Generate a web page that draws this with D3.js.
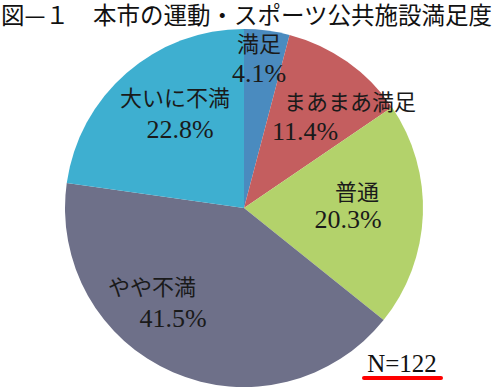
<!DOCTYPE html>
<html>
<head>
<meta charset="utf-8">
<script src="https://cdn.jsdelivr.net/npm/d3@7"></script>
<style>
  body { margin: 0; background: #fff; }
  svg { display: block; }
  .jp { font-family: "Noto Sans CJK JP", sans-serif; }
  .num { font-family: "Liberation Serif", "DejaVu Serif", serif; }
</style>
</head>
<body>
<script>
// data
var labels = ["満足", "まあまあ満足", "普通", "やや不満", "大いに不満"];
var values = [4.1, 11.4, 20.3, 41.5, 22.8];
var colors = ["#4a8bbf", "#c45e5f", "#b3d26b", "#6e7089", "#3eafd0"];
// label anchor points (label baseline, percent baseline) in px
var labelPos = [[259, 52], [350, 110], [357, 200], [152, 295], [175, 106]];
var pctPos = [[259, 82], [305, 140], [348, 228], [173, 327], [180, 138]];

var width = 500, height = 387;
var cx = 244, cy = 208, r = 179;

var svg = d3.select("body").append("svg")
    .attr("width", width)
    .attr("height", height);

// title in two parts
svg.append("text")
    .attr("class", "jp")
    .attr("x", 1)
    .attr("y", 24)
    .attr("font-size", "23.5px")
    .attr("fill", "#111")
    .text("図—１");

svg.append("text")
    .attr("class", "jp")
    .attr("x", 93)
    .attr("y", 24)
    .attr("font-size", "23.5px")
    .attr("fill", "#111")
    .text("本市の運動・スポーツ公共施設満足度");

var pie = d3.pie().sort(null).value(d => d);
var arc = d3.arc().innerRadius(0).outerRadius(r);

var g = svg.append("g")
    .attr("transform", "translate(" + cx + "," + cy + ")");

g.selectAll("path")
    .data(pie(values))
    .enter()
    .append("path")
    .attr("d", arc)
    .attr("fill", (d, i) => colors[i]);

// slice labels
labels.forEach((lab, i) => {
    svg.append("text")
        .attr("class", "jp")
        .attr("x", labelPos[i][0])
        .attr("y", labelPos[i][1])
        .attr("text-anchor", "middle")
        .attr("font-size", "22px")
        .attr("fill", "#1a1a1a")
        .text(lab);
    svg.append("text")
        .attr("class", "num")
        .attr("x", pctPos[i][0])
        .attr("y", pctPos[i][1])
        .attr("text-anchor", "middle")
        .attr("font-size", "26px")
        .attr("fill", "#1a1a1a")
        .text(values[i].toFixed(1) + "%");
});

// N note with red underline
svg.append("text")
    .attr("class", "num")
    .attr("x", 402)
    .attr("y", 372)
    .attr("text-anchor", "middle")
    .attr("font-size", "25px")
    .attr("fill", "#111")
    .text("N=122");

svg.append("line")
    .attr("x1", 364).attr("y1", 378)
    .attr("x2", 441).attr("y2", 378)
    .attr("stroke", "#f00")
    .attr("stroke-width", 4)
    .attr("stroke-linecap", "round");
</script>
</body>
</html>
